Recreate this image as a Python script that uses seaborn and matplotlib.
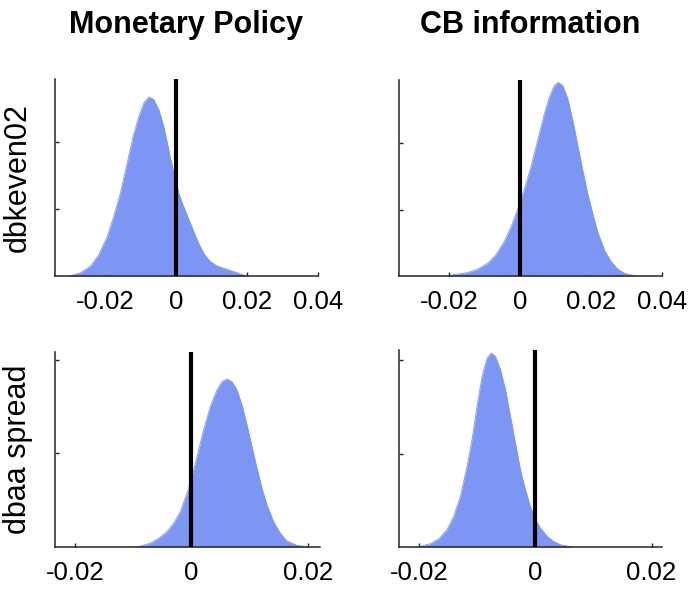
import numpy as np
import pandas as pd
import seaborn as sns
import matplotlib
matplotlib.use("Agg")
import matplotlib.pyplot as plt

# ---- data ----
col_titles = ["Monetary Policy", "CB information"]
row_labels = ["dbkeven02", "dbaa spread"]

# top-left: dbkeven02 / Monetary Policy
tl_x = [-0.0300, -0.0296, -0.0268, -0.0240, -0.0217, -0.0193, -0.0175, -0.0156, -0.0137,
        -0.0119, -0.0104, -0.0090, -0.0076, -0.0062, -0.0048, -0.0034, -0.0020, -0.0006,
        0.0008, 0.0022, 0.0041, 0.0060, 0.0078, 0.0097, 0.0116, 0.0144, 0.0172, 0.0195, 0.0200]
tl_d = [0.0, 0.1, 1.0, 3.0, 6.3, 11.8, 17.8, 24.8, 33.8,
        42.3, 47.8, 51.8, 53.6, 52.8, 49.8, 44.8, 37.8, 30.8,
        24.8, 20.8, 15.8, 10.8, 6.8, 4.3, 3.0, 2.0, 1.0, 0.1, 0.0]

# top-right: dbkeven02 / CB information
tr_x = [-0.0200, -0.0186, -0.0148, -0.0120, -0.0091, -0.0068, -0.0044, -0.0025, -0.0007,
        0.0012, 0.0031, 0.0050, 0.0069, 0.0083, 0.0097, 0.0108, 0.0121, 0.0135,
        0.0149, 0.0163, 0.0177, 0.0191, 0.0205, 0.0219, 0.0238, 0.0257, 0.0276,
        0.0295, 0.0323, 0.0330]
tr_d = [0.0, 0.4, 1.0, 2.0, 3.8, 6.3, 10.3, 14.8, 19.8,
        25.8, 32.8, 40.8, 48.8, 53.8, 57.3, 58.3, 57.3, 53.3,
        46.8, 39.3, 31.8, 24.8, 18.8, 13.3, 7.8, 4.3, 2.0,
        0.8, 0.1, 0.0]

# bottom-left: dbaa spread / Monetary Policy
bl_x = [-0.0095, -0.00876, -0.00704, -0.00561, -0.00418, -0.00304, -0.00189, -0.00074,
        0.00012, 0.00098, 0.00211, 0.00326, 0.00441, 0.00527, 0.00613, 0.00698, 0.00784,
        0.0087, 0.00956, 0.01042, 0.01128, 0.01214, 0.0130, 0.01413, 0.01528, 0.01643,
        0.01815, 0.01986, 0.0203]
bl_d = [0.0, 0.5, 2.0, 4.6, 8.2, 12.6, 18.8, 28.7,
        37.5, 48.2, 62.4, 74.9, 83.8, 88.2, 89.6, 88.2, 83.8,
        75.8, 65.1, 53.5, 42.0, 31.3, 22.4, 13.5, 7.3, 3.2,
        0.9, 0.2, 0.0]

# bottom-right: dbaa spread / CB information
br_x = [-0.0205, -0.01983, -0.0181, -0.01667, -0.01522, -0.01408, -0.01293, -0.01178,
        -0.01092, -0.01006, -0.00919, -0.00833, -0.00764, -0.0069, -0.00603, -0.00517,
        -0.00431, -0.00345, -0.00259, -0.00172, -0.00086, 0.0, 0.00086, 0.00201, 0.00316,
        0.00431, 0.00603, 0.0065]
br_d = [0.0, 0.3, 1.8, 4.3, 9.3, 16.4, 27.1, 43.2,
        57.5, 75.3, 91.4, 101.2, 103.9, 102.1, 95.0, 84.3,
        70.0, 55.7, 41.4, 30.7, 21.7, 14.6, 10.2, 5.7, 3.0,
        1.2, 0.2, 0.0]

xticks_top = [-0.02, 0, 0.02, 0.04]
xticks_bot = [-0.02, 0, 0.02]
xticklabels_top = ["-0.02", "0", "0.02", "0.04"]
xticklabels_bot = ["-0.02", "0", "0.02"]
yticks_top = [20, 40]
yticks_bot = [50, 100]

# ---- style ----
sns.set_style("ticks")
plt.rcParams["font.family"] = ["Liberation Sans", "DejaVu Sans"]
plt.rcParams["axes.unicode_minus"] = False
plt.rcParams["text.color"] = "black"
plt.rcParams["axes.labelcolor"] = "black"

fill_color = "#7d95f3"
spine_color = "#262626"

fig = plt.figure(figsize=(6.89, 5.92), dpi=100)

W, H = 689, 592
def rect(x0, y0, x1, y1):
    return [x0 / W, 1 - y1 / H, (x1 - x0) / W, (y1 - y0) / H]

panels = [
    dict(r=rect(55, 79, 318, 276), x=tl_x, d=tl_d, xlim=(-0.034, 0.04), ylim=(0, 59),
         xt=xticks_top, xtl=xticklabels_top, yt=yticks_top, ylabel=row_labels[0]),
    dict(r=rect(399, 80, 662, 276), x=tr_x, d=tr_d, xlim=(-0.034, 0.04), ylim=(0, 59),
         xt=xticks_top, xtl=xticklabels_top, yt=yticks_top, ylabel=None),
    dict(r=rect(55, 352, 320, 547), x=bl_x, d=bl_d, xlim=(-0.0234, 0.0221), ylim=(0, 104),
         xt=xticks_bot, xtl=xticklabels_bot, yt=yticks_bot, ylabel=row_labels[1]),
    dict(r=rect(399, 350, 662, 547), x=br_x, d=br_d, xlim=(-0.0235, 0.0218), ylim=(0, 105.5),
         xt=xticks_bot, xtl=xticklabels_bot, yt=yticks_bot, ylabel=None),
]

for p in panels:
    ax = fig.add_axes(p["r"])
    df = pd.DataFrame({"x": p["x"], "d": p["d"]})
    sns.lineplot(data=df, x="x", y="d", ax=ax, color=fill_color, linewidth=0.6)
    ax.fill_between(df["x"], 0, df["d"], color=fill_color, linewidth=0)
    ax.axvline(0, color="black", linewidth=3, zorder=5)
    ax.set_xlim(*p["xlim"])
    ax.set_ylim(*p["ylim"])
    ax.set_xticks(p["xt"])
    ax.set_xticklabels(p["xtl"])
    ax.set_yticks(p["yt"])
    ax.set_yticklabels([])
    ax.set_xlabel("")
    ax.set_ylabel("")
    for s in ["top", "right"]:
        ax.spines[s].set_visible(False)
    for s in ["left", "bottom"]:
        ax.spines[s].set_color(spine_color)
        ax.spines[s].set_linewidth(1.1)
    ax.tick_params(axis="both", direction="in", length=3, width=1, color=spine_color)
    ax.tick_params(axis="x", labelsize=18.5, pad=10, labelcolor="black")
    if p["ylabel"]:
        ax.set_ylabel(p["ylabel"], fontsize=22, color="black")
        ax.yaxis.set_label_coords(-0.084, 0.5)

# column titles
fig.text(186 / W, 1 - 33 / H, col_titles[0], ha="center", va="baseline",
         fontsize=22, fontweight="bold", color="black")
fig.text(530 / W, 1 - 33 / H, col_titles[1], ha="center", va="baseline",
         fontsize=22, fontweight="bold", color="black")

fig.savefig("out.png", dpi=100)
